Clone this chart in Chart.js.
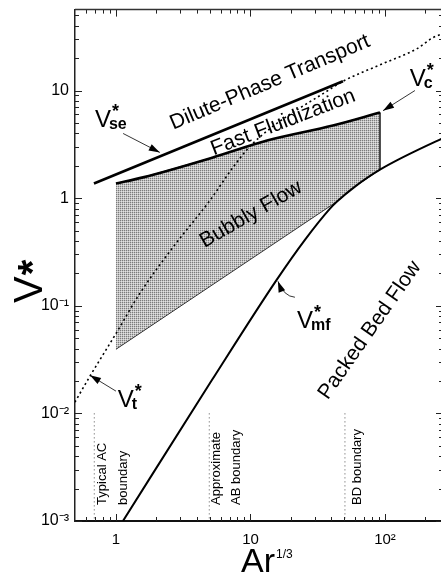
<!DOCTYPE html>
<html><head><meta charset="utf-8">
<script src="https://cdn.jsdelivr.net/npm/chart.js@4.4.0/dist/chart.umd.min.js"></script>
<style>html,body{margin:0;padding:0;background:#fff;overflow:hidden;} #wrap{width:443px;height:577px;}</style>
</head><body><div id="wrap"><canvas id="c" width="443" height="577"></canvas></div>
<script>
// ---- axis ranges and tick labels ----
const X_MIN = 0.496, X_MAX = 270, Y_MIN = 0.001, Y_MAX = 56.5;
const X_TICK_VALUES = [1, 10, 100];
const X_TICK_LABELS = ['1', '10', '10\u00B2'];
const Y_TICK_VALUES = [0.001, 0.01, 0.1, 1, 10];
const Y_TICK_LABELS = ['10\u207B\u00B3', '10\u207B\u00B2', '10\u207B\u00B9', '1', '10'];

// ---- curves (Ar^1/3 , V*) ----
const VSE_X = [0.686, 48.7];
const VSE_Y = [1.37, 12.2];
const VC_X = [1.0, 1.59, 5.26, 13.3, 41, 91.8];
const VC_Y = [1.37, 1.56, 2.39, 3.43, 4.73, 6.25];
const VMF_X = [1.127, 5.17, 15.7, 25.4, 39, 44, 59.8, 91.8, 256, 270];
const VMF_Y = [0.001, 0.0204, 0.175, 0.41, 0.80, 0.93, 1.28, 1.84, 3.5, 3.6];
const VT_X = [0.495, 0.641, 0.983, 1.51, 2.65, 5.0, 7.41, 10.4, 41, 48.7, 96.7, 173, 227, 270];
const VT_Y = [0.0127, 0.0222, 0.0532, 0.131, 0.349, 0.953, 1.93, 3.22, 10.7, 12.2, 17.8, 24.5, 31, 33.8];
const BUB_LOW_X = [1.0, 44];
const BUB_LOW_Y = [0.0394, 0.93];
const BOUNDARY_X = [0.69, 4.94, 50.4];
const BOUNDARY_Y = [0.01, 0.001];

const F = "'Liberation Sans', Arial, Helvetica, sans-serif";
const pts = (xs, ys) => xs.map((x, i) => ({x, y: ys[i]}));

// shaded bubbly-flow region polygon
const vcEnd = VC_X[VC_X.length - 1];
const shadePts = pts(VC_X, VC_Y)
  .concat(pts(VMF_X, VMF_Y).filter(p => p.x >= BUB_LOW_X[1] && p.x <= vcEnd).reverse())
  .concat([{x: BUB_LOW_X[0], y: BUB_LOW_Y[0]}]);

// stipple pattern for the shaded region
const pc = document.createElement('canvas'); pc.width = 2; pc.height = 2;
const pg = pc.getContext('2d');
pg.fillStyle = '#c2c2c2'; pg.fillRect(0, 0, 2, 2);
pg.fillStyle = '#7c7c7c'; pg.fillRect(0, 0, 1, 1);
pg.fillStyle = '#e2e2e2'; pg.fillRect(1, 1, 1, 1);
const shadePattern = pg.createPattern(pc, 'repeat');

const base = {showLine: true, pointRadius: 0, fill: false, borderColor: '#000', tension: 0};
const datasets = [
  Object.assign({}, base, {label: 'bubbly', data: shadePts, fill: 'shape', backgroundColor: shadePattern, borderWidth: 1, borderColor: '#333', order: 10}),
  Object.assign({}, base, {label: 'Vse', data: pts(VSE_X, VSE_Y), borderWidth: 2.6, order: 1}),
  Object.assign({}, base, {label: 'Vc', data: pts(VC_X, VC_Y), borderWidth: 2.6, cubicInterpolationMode: 'monotone', order: 1}),
  Object.assign({}, base, {label: 'Vmf', data: pts(VMF_X, VMF_Y), borderWidth: 2, cubicInterpolationMode: 'monotone', order: 1}),
  Object.assign({}, base, {label: 'Vt', data: pts(VT_X, VT_Y), borderWidth: 1.6, borderDash: [2, 3], cubicInterpolationMode: 'monotone', order: 2})
];
BOUNDARY_X.forEach((bx, i) => datasets.push(Object.assign({}, base, {
  label: 'b' + i, data: BOUNDARY_Y.map(y => ({x: bx, y})), borderWidth: 1, borderDash: [1, 3], borderColor: '#555', order: 3
})));

function tickLabel(vals, labels) {
  return function (v) {
    for (let i = 0; i < vals.length; i++) if (Math.abs(Math.log10(v) - Math.log10(vals[i])) < 1e-6) return labels[i];
    return '';
  };
}

// ---- annotation definitions (data coordinates) ----
const REGION_LABELS = [
  {text: 'Dilute-Phase Transport', x: 13.96, y: 11.9, angle: -23, size: 21},
  {text: 'Fast Fluidization', x: 17.5, y: 5.05, angle: -21, size: 21},
  {text: 'Bubbly Flow', x: 10.1, y: 0.706, angle: -30, size: 21},
  {text: 'Packed Bed Flow', x: 77.3, y: 0.0593, angle: -55, size: 21}
];
const BOUNDARY_LABELS = [
  {text: 'Typical AC', x: 0.787, y: 0.00141},
  {text: 'boundary', x: 1.127, y: 0.00141},
  {text: 'Approximate', x: 5.63, y: 0.00141},
  {text: 'AB boundary', x: 7.8, y: 0.00141},
  {text: 'BD boundary', x: 61.9, y: 0.00141}
];
const V_LABELS = [
  {sub: 'se', x: 0.698, y: 4.54, from: [1.13, 3.99], to: [2.12, 2.66]},
  {sub: 'c', x: 153, y: 11.1, from: [167, 10], to: [96.7, 6.5]},
  {sub: 'mf', x: 22.2, y: 0.0618, from: [21.4, 0.12], ctrl: [17.7, 0.122], to: [16, 0.169]},
  {sub: 't', x: 1.03, y: 0.0114, from: [1.0, 0.0161], to: [0.641, 0.0226]}
];

function arrowHead(ctx, fx, fy, tx, ty, len, w) {
  const a = Math.atan2(ty - fy, tx - fx);
  ctx.beginPath();
  ctx.moveTo(tx, ty);
  ctx.lineTo(tx - len * Math.cos(a) + w * Math.sin(a), ty - len * Math.sin(a) - w * Math.cos(a));
  ctx.lineTo(tx - len * Math.cos(a) - w * Math.sin(a), ty - len * Math.sin(a) + w * Math.cos(a));
  ctx.closePath(); ctx.fill();
}

const annotations = {
  id: 'annotations',
  afterDatasetsDraw(chart) {
    const {ctx, scales: {x, y}} = chart;
    const P = (dx, dy) => [x.getPixelForValue(dx), y.getPixelForValue(dy)];
    ctx.save();
    ctx.fillStyle = '#000'; ctx.strokeStyle = '#000';
    REGION_LABELS.forEach(l => {
      const [px, py] = P(l.x, l.y);
      ctx.save(); ctx.translate(px, py); ctx.rotate(l.angle * Math.PI / 180);
      ctx.font = `${l.size}px ${F}`; ctx.textAlign = 'center'; ctx.textBaseline = 'middle';
      ctx.fillText(l.text, 0, 0); ctx.restore();
    });
    BOUNDARY_LABELS.forEach(l => {
      const [px, py] = P(l.x, l.y);
      ctx.save(); ctx.translate(px, py); ctx.rotate(-Math.PI / 2);
      ctx.font = `13px ${F}`; ctx.textAlign = 'left'; ctx.textBaseline = 'middle';
      ctx.fillText(l.text, 0, 0); ctx.restore();
    });
    V_LABELS.forEach(l => {
      const [px, py] = P(l.x, l.y);
      ctx.textAlign = 'left'; ctx.textBaseline = 'alphabetic';
      ctx.font = `24px ${F}`; ctx.fillText('V', px, py);
      const w = ctx.measureText('V').width;
      ctx.font = `bold 18px ${F}`; ctx.fillText('*', px + w + 1, py - 10);
      ctx.font = `bold 16px ${F}`; ctx.fillText(l.sub, px + w - 2, py + 2);
      const [fx, fy] = P(l.from[0], l.from[1]);
      const [tx, ty] = P(l.to[0], l.to[1]);
      ctx.lineWidth = 0.8;
      ctx.beginPath(); ctx.moveTo(fx, fy);
      let sx = fx, sy = fy;
      if (l.ctrl) { const [cx, cy] = P(l.ctrl[0], l.ctrl[1]); ctx.quadraticCurveTo(cx, cy, tx, ty); sx = cx; sy = cy; }
      else ctx.lineTo(tx, ty);
      ctx.stroke();
      arrowHead(ctx, sx, sy, tx, ty, 11, 3.5);
    });
    ctx.restore();
  }
};

const frame = {
  id: 'frame',
  afterDraw(chart) {
    const {ctx, chartArea: a, scales: {x, y}} = chart;
    ctx.save(); ctx.strokeStyle = '#222'; ctx.lineWidth = 1;
    const mant = v => { const e = Math.floor(Math.log10(v) + 1e-9); const m = v / Math.pow(10, e); return Math.abs(m - Math.round(m)) < 1e-6 ? Math.round(m) : 0; };
    const seg = (x0, y0, x1, y1) => { ctx.beginPath(); ctx.moveTo(x0, y0); ctx.lineTo(x1, y1); ctx.stroke(); };
    x.ticks.forEach(t => { const m = mant(t.value); if (!m) return; const px = Math.round(x.getPixelForValue(t.value)) + 0.5; const L = m === 1 ? 7 : 4; seg(px, a.bottom, px, a.bottom - L); seg(px, a.top, px, a.top + L); });
    y.ticks.forEach(t => { const m = mant(t.value); if (!m) return; const py = Math.round(y.getPixelForValue(t.value)) + 0.5; const L = m === 1 ? 7 : 4; seg(a.left, py, a.left + L, py); seg(a.right, py, a.right - L, py); });
    ctx.strokeStyle = '#333'; ctx.lineWidth = 1.5; seg(a.left, a.top, a.right, a.top);
    // axis titles
    ctx.fillStyle = '#000';
    ctx.save(); ctx.translate(42, 303); ctx.rotate(-Math.PI / 2);
    ctx.font = `40px ${F}`; ctx.textAlign = 'left'; ctx.textBaseline = 'alphabetic';
    ctx.fillText('V', 0, 0); const vw = ctx.measureText('V').width;
    ctx.font = `bold 40px ${F}`; ctx.fillText('*', vw + 1, 4);
    ctx.restore();
    ctx.font = `34px ${F}`; ctx.textAlign = 'left'; ctx.textBaseline = 'alphabetic';
    ctx.fillText('Ar', 241, 572); const aw = ctx.measureText('Ar').width;
    ctx.font = `12px ${F}`; ctx.fillText('1/3', 241 + aw + 1, 558);
    ctx.restore();
  }
};

new Chart(document.getElementById('c'), {
  type: 'scatter',
  data: {datasets},
  options: {
    responsive: false, animation: false, devicePixelRatio: 1,
    layout: {padding: {top: 9, left: 0, right: 0, bottom: 0}},
    plugins: {legend: {display: false}, tooltip: {enabled: false}},
    scales: {
      x: {
        type: 'logarithmic', min: X_MIN, max: X_MAX, position: 'bottom',
        grid: {display: true, drawOnChartArea: false, drawTicks: true, tickLength: 10, tickColor: 'rgba(0,0,0,0)'},
        border: {display: true, color: '#111', width: 2},
        ticks: {autoSkip: false, maxRotation: 0, padding: 0, color: '#000', font: {size: 15, family: F}, callback: tickLabel(X_TICK_VALUES, X_TICK_LABELS)},
        afterFit(s) { s.height = 56; }
      },
      y: {
        type: 'logarithmic', min: Y_MIN, max: Y_MAX, position: 'left',
        grid: {display: true, drawOnChartArea: false, drawTicks: true, tickLength: 6, tickColor: 'rgba(0,0,0,0)'},
        border: {display: true, color: '#222', width: 1.5},
        ticks: {autoSkip: false, padding: 0, color: '#000', font: {size: 16, family: F}, callback: tickLabel(Y_TICK_VALUES, Y_TICK_LABELS)},
        afterFit(s) { s.width = 75; }
      }
    }
  },
  plugins: [annotations, frame]
});
</script></body></html>
